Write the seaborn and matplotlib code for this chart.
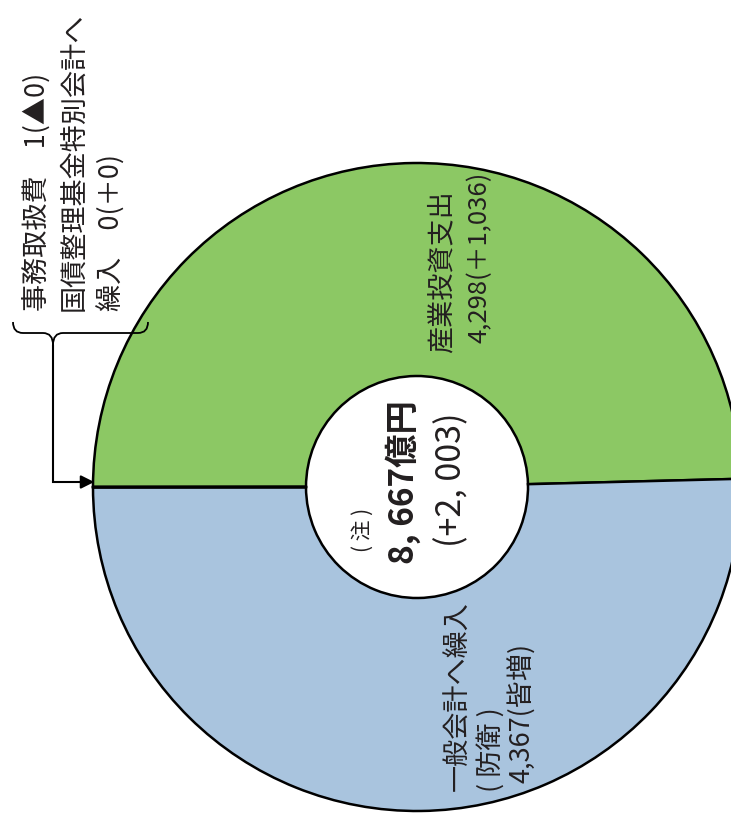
import seaborn as sns
import matplotlib.pyplot as plt
from matplotlib.path import Path
from matplotlib.patches import PathPatch

# Dane (億円)
labels = ["産業投資支出", "一般会計へ繰入", "事務取扱費", "国債整理基金特別会計へ繰入"]
values = [4298, 4367, 1, 0]
changes = ["＋1,036", "皆増", "▲0", "＋0"]
total_label = "8, 667億円"
total_change = "(+2, 003)"
colors = ["#8cc864", "#a9c4de", "#ffffff", "#ffffff"]

sns.set_theme(style="white")
plt.rcParams["font.family"] = ["Noto Sans CJK JP", "DejaVu Sans"]

fig = plt.figure(figsize=(7.31, 8.19), dpi=100)
ax = fig.add_axes([0, 0, 1, 1])

cx, cy, R, r = 417, 487, 324, 111
ax.pie(
    values,
    colors=colors,
    startangle=180,
    counterclock=True,
    center=(cx, cy),
    radius=R,
    wedgeprops=dict(width=R - r, edgecolor="black", linewidth=1.8),
)
ax.set_xlim(0, 731)
ax.set_ylim(819, 0)
ax.axis("off")


def vtext(x, y, s, size, weight="normal"):
    # tekst pionowy (od dołu do góry); x = środek kolumny, linia bazowa po prawej
    xb = x + 0.36 * size * 100 / 72
    ax.text(xb, y, s, rotation=90, rotation_mode="anchor", ha="left", va="baseline",
            fontsize=size, fontweight=weight, color="#231f20")


# zielony wycinek
vtext(440, 353, labels[0], 19.5)
vtext(477, 343, f"{values[0]:,}({changes[0]})", 18.5)

# środek
vtext(361, 552, "( 注 )", 15)
vtext(402, 564, total_label, 24, "bold")
vtext(449, 547, total_change, 24.5)

# niebieski wycinek
vtext(456, 791, labels[1], 19.5)
vtext(489, 792, "( 防衛 )", 19.5)
vtext(520, 783, f"{values[1]:,}({changes[1]})", 19.5)

# opis małych pozycji
vtext(35, 311, f"{labels[2]}　{values[2]}({changes[2]})", 19.5)
vtext(72, 311, labels[3][:11], 19.5)
vtext(110, 311, f"{labels[3][11:]}　{values[3]}({changes[3]})", 19.5)

# klamra
verts = [(13, 322), (13, 333), (23, 333), (43, 333), (53, 333), (53, 345),
         (53, 333), (63, 333), (138, 333), (148, 333), (148, 322)]
codes = [Path.MOVETO, Path.CURVE3, Path.CURVE3, Path.LINETO, Path.CURVE3, Path.CURVE3,
         Path.CURVE3, Path.CURVE3, Path.LINETO, Path.CURVE3, Path.CURVE3]
ax.add_patch(PathPatch(Path(verts, codes), fill=False, lw=1.3, edgecolor="black"))

# strzałka
ax.plot([53, 53, 86], [345, 482, 482], color="black", lw=1.5, solid_joinstyle="miter")
ax.annotate("", xy=(97, 482), xytext=(84, 482),
            arrowprops=dict(arrowstyle="-|>", color="black", lw=1.5, mutation_scale=20))

fig.savefig("out.png", dpi=100)
